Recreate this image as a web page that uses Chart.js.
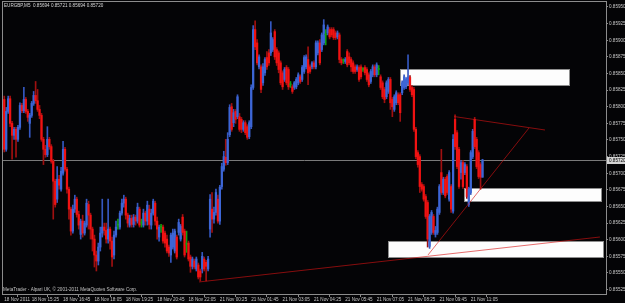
<!DOCTYPE html>
<html>
<head>
<meta charset="utf-8">
<script src="https://cdn.jsdelivr.net/npm/chart.js@4.4.0/dist/chart.umd.min.js"></script>
<style>
  html, body { margin: 0; padding: 0; background: #040406; }
  canvas { display: block; }
</style>
</head>
<body>
<canvas id="c" width="625" height="303"></canvas>
<script>
// EURGBP M5 bars, quotes in 1e-5 units (85811 = 0.85811)
var openP = [
  85811,85736,85793,85812,85775,85757,85766,85751,85769,85802,
  85794,85811,85793,85775,85787,85805,85817,85809,85796,85787,
  85751,85736,85728,85751,85740,85718,85688,85661,85691,85676,
  85700,85736,85706,85676,85646,85613,85646,85661,85638,85608,
  85628,85610,85622,85653,85637,85616,85601,85577,85568,85589,
  85610,85619,85614,85601,85616,85598,85577,85607,85622,85619,
  85640,85655,85661,85637,85622,85632,85623,85634,85628,85646,
  85625,85622,85640,85628,85646,85622,85640,85655,85628,85604,
  85619,85619,85610,85601,85589,85577,85589,85583,85604,85611,
  85601,85634,85613,85593,85595,85574,85560,85568,85556,85562,
  85553,85556,85571,85566,85556,85616,85646,85631,85641,85661,
  85628,85680,85706,85724,85716,85758,85800,85776,85793,85785,
  85785,85781,85766,85776,85770,85755,85770,85829,85916,85896,
  85860,85860,85836,85851,85874,85881,85881,85886,85913,85886,
  85881,85866,85851,85841,85859,85856,85833,85830,85829,85830,
  85836,85845,85841,85853,85860,85871,85860,85860,85866,85860,
  85881,85896,85886,85896,85908,85911,85916,85916,85916,85911,
  85905,85908,85871,85869,85868,85883,85875,85871,85866,85860,
  85856,85859,85860,85856,85859,85856,85848,85838,85848,85860,
  85848,85856,85845,85836,85826,85815,85823,85841,85811,85796,
  85806,85818,85818,85821,85829,85830,85836,85844,85829,85826,
  85766,85731,85725,85683,85680,85665,85656,85590,85611,85635,
  85608,85611,85641,85701,85671,85691,85695,85661,85680,85643,
  85781,85761,85736,85701,85716,85701,85710,85653,85671,85725,
  85781,85751,85731,85713,85694
];
var highP = [
  85816,85799,85816,85816,85778,85769,85769,85772,85806,85805,
  85829,85814,85796,85790,85808,85823,85838,85826,85802,85790,
  85754,85742,85770,85754,85743,85721,85691,85710,85697,85709,
  85748,85739,85709,85679,85649,85652,85667,85664,85643,85631,
  85637,85628,85661,85658,85640,85619,85607,85583,85595,85619,
  85661,85625,85625,85661,85619,85604,85613,85628,85631,85643,
  85661,85667,85664,85640,85637,85637,85638,85637,85655,85649,
  85631,85646,85643,85658,85652,85646,85661,85658,85634,85622,
  85623,85622,85613,85607,85592,85610,85616,85616,85607,85631,
  85623,85638,85616,85613,85598,85577,85574,85571,85574,85565,
  85556,85581,85574,85569,85575,85668,85671,85649,85676,85667,
  85682,85715,85733,85751,85761,85803,85805,85796,85796,85818,
  85790,85784,85779,85779,85773,85779,85833,85922,85929,85901,
  85878,85863,85865,85874,85883,85886,85928,85904,85916,85889,
  85884,85869,85854,85859,85862,85859,85838,85833,85838,85844,
  85851,85848,85862,85877,85878,85890,85863,85868,85869,85899,
  85899,85901,85911,85931,85916,85923,85919,85919,85919,85914,
  85914,85911,85874,85872,85874,85886,85881,85874,85869,85863,
  85863,85862,85863,85859,85862,85859,85851,85856,85863,85863,
  85866,85862,85848,85839,85829,85839,85844,85844,85814,85818,
  85824,85821,85821,85839,85848,85844,85878,85847,85832,85829,
  85769,85734,85728,85686,85683,85668,85659,85638,85644,85638,
  85620,85649,85683,85736,85694,85694,85698,85704,85683,85758,
  85788,85764,85739,85719,85719,85716,85713,85679,85734,85766,
  85784,85754,85734,85716,85721
];
var lowP = [
  85732,85733,85790,85770,85721,85751,85724,85748,85766,85791,
  85791,85790,85778,85754,85784,85802,85805,85793,85782,85748,
  85713,85724,85725,85736,85715,85631,85649,85656,85676,85673,
  85697,85703,85670,85631,85607,85610,85641,85634,85616,85601,
  85604,85607,85619,85616,85601,85583,85559,85553,85562,85583,
  85604,85607,85595,85595,85586,85560,85571,85604,85616,85616,
  85637,85649,85631,85619,85619,85619,85619,85622,85625,85619,
  85619,85619,85622,85622,85616,85616,85637,85622,85601,85598,
  85611,85595,85589,85580,85575,85566,85586,85580,85571,85607,
  85598,85607,85574,85581,85568,85551,85556,85556,85553,85541,
  85538,85550,85553,85538,85553,85604,85611,85625,85637,85625,
  85623,85676,85703,85712,85713,85755,85763,85770,85775,85782,
  85763,85761,85763,85758,85751,85752,85767,85826,85886,85863,
  85857,85821,85832,85847,85856,85862,85877,85883,85871,85862,
  85851,85833,85826,85838,85833,85826,85829,85820,85826,85827,
  85833,85835,85838,85850,85857,85833,85850,85857,85857,85857,
  85878,85863,85883,85893,85893,85908,85902,85905,85901,85901,
  85902,85866,85863,85865,85865,85860,85863,85853,85850,85850,
  85853,85838,85842,85853,85848,85838,85830,85835,85845,85845,
  85845,85848,85826,85812,85806,85812,85820,85796,85785,85793,
  85803,85803,85778,85818,85826,85827,85833,85823,85815,85763,
  85722,85709,85671,85673,85658,85632,85589,85587,85608,85608,
  85604,85608,85638,85668,85668,85663,85668,85658,85641,85640,
  85736,85707,85677,85691,85677,85698,85662,85650,85668,85722,
  85737,85707,85692,85676,85694
];
var closeP = [
  85736,85793,85812,85775,85757,85766,85751,85769,85802,85794,
  85811,85793,85784,85787,85805,85817,85809,85796,85787,85751,
  85736,85728,85751,85740,85718,85688,85653,85691,85682,85703,
  85736,85706,85676,85646,85613,85646,85661,85638,85622,85628,
  85610,85625,85655,85637,85616,85601,85577,85568,85589,85610,
  85619,85614,85601,85616,85598,85574,85607,85619,85622,85640,
  85655,85661,85637,85625,85632,85623,85634,85628,85649,85622,
  85625,85640,85628,85652,85623,85640,85658,85628,85616,85619,
  85619,85598,85595,85583,85580,85607,85610,85613,85574,85626,
  85620,85611,85577,85593,85571,85560,85571,85559,85571,85544,
  85544,85575,85556,85560,85571,85661,85631,85641,85671,85628,
  85679,85710,85725,85716,85751,85799,85766,85791,85781,85815,
  85766,85766,85776,85761,85754,85776,85829,85916,85890,85866,
  85875,85826,85860,85871,85860,85866,85911,85901,85875,85866,
  85856,85836,85830,85856,85836,85830,85833,85823,85836,85841,
  85848,85838,85859,85874,85875,85851,85853,85866,85860,85896,
  85896,85866,85908,85923,85908,85920,85905,85908,85904,85904,
  85911,85871,85866,85869,85871,85863,85866,85860,85853,85853,
  85860,85841,85845,85856,85851,85841,85833,85853,85860,85848,
  85863,85856,85829,85815,85811,85836,85841,85806,85800,85815,
  85821,85806,85791,85836,85845,85841,85845,85826,85818,85766,
  85725,85713,85680,85676,85661,85635,85601,85635,85641,85611,
  85614,85646,85680,85671,85691,85666,85671,85701,85646,85751,
  85740,85710,85680,85716,85680,85713,85665,85676,85731,85763,
  85740,85710,85695,85694,85720
];

// time axis: bar index of each label and its text
var xTickIdx = [0, 14, 30, 46, 62, 78, 94, 110, 126, 142, 158, 174, 190, 206, 222, 238];
var xTickText = ["18 Nov 2011", "18 Nov 15:25", "18 Nov 16:45", "18 Nov 18:05", "18 Nov 19:25",
  "18 Nov 20:45", "18 Nov 22:05", "21 Nov 00:25", "21 Nov 01:45", "21 Nov 03:05", "21 Nov 04:25",
  "21 Nov 05:45", "21 Nov 07:05", "21 Nov 08:25", "21 Nov 09:45", "21 Nov 11:05"];
var priceTicks = [0.85525, 0.8555, 0.85575, 0.856, 0.85625, 0.8565, 0.85675, 0.857, 0.85725,
  0.8575, 0.85775, 0.858, 0.85825, 0.8585, 0.85875, 0.859, 0.85925, 0.8595];

// drawn objects: zones [fromBar, toBar, topPrice, bottomPrice], lines [bar1, price1, bar2, price2]
var zones = [
  [201.9, 288.6, 0.858568, 0.858312],
  [234.6, 305.0, 0.856778, 0.856567],
  [195.8, 306.0, 0.855981, 0.855725]
];
var trendLines = [
  [99.4, 0.855365, 303.9, 0.856041],
  [216.2, 0.855771, 267.7, 0.857680],
  [229.5, 0.857853, 275.9, 0.857650]
];
var lastPrice = 0.85720;

var UP = '#3d66d6', DOWN = '#f01212', DOJI = '#10a010';
var UP_WICK = '#3558c0', DOWN_WICK = '#a01010';
var FONT = 'Liberation Sans';

var bodies = [], wicks = [], bodyCol = [], wickCol = [];
for (var i = 0; i < openP.length; i++) {
  var o = openP[i] / 1e5, c = closeP[i] / 1e5;
  bodies.push({x: i, y: [o, c]});
  wicks.push({x: i, y: [lowP[i] / 1e5, highP[i] / 1e5]});
  if (openP[i] === closeP[i]) { bodyCol.push(DOJI); wickCol.push(DOJI); }
  else if (c > o) { bodyCol.push(UP); wickCol.push(UP_WICK); }
  else { bodyCol.push(DOWN); wickCol.push(DOWN_WICK); }
}

var datasets = trendLines.map(function(t) {
  return {
    type: 'line',
    data: [{x: t[0], y: t[1]}, {x: t[2], y: t[3]}],
    borderColor: 'rgba(215,20,20,0.62)',
    borderWidth: 1,
    pointRadius: 0,
    tension: 0,
    fill: false
  };
});
datasets.push({
  data: bodies,
  backgroundColor: bodyCol,
  barThickness: 1.6,
  minBarLength: 1,
  grouped: false
});
datasets.push({
  data: wicks,
  backgroundColor: wickCol,
  barThickness: 1,
  grouped: false
});

var mtPlugin = {
  id: 'mt',
  beforeDatasetsDraw: function(chart) {
    var ctx = chart.ctx, a = chart.chartArea, xs = chart.scales.x, ys = chart.scales.y;
    ctx.save();
    ctx.beginPath();
    ctx.rect(a.left, a.top, a.right - a.left, a.bottom - a.top);
    ctx.clip();
    var yp = Math.round(ys.getPixelForValue(lastPrice)) + 0.5;
    ctx.strokeStyle = '#7a7a7a';
    ctx.lineWidth = 1;
    ctx.beginPath();
    ctx.moveTo(a.left, yp);
    ctx.lineTo(a.right, yp);
    ctx.stroke();
    zones.forEach(function(z) {
      var x0 = Math.round(xs.getPixelForValue(z[0])), x1 = Math.round(xs.getPixelForValue(z[1]));
      var y0 = Math.round(ys.getPixelForValue(z[2])), y1 = Math.round(ys.getPixelForValue(z[3]));
      ctx.fillStyle = '#fdfdfd';
      ctx.fillRect(x0, y0, x1 - x0, y1 - y0);
      ctx.strokeStyle = '#8e8e8e';
      ctx.strokeRect(x0 + 0.5, y0 + 0.5, x1 - x0 - 1, y1 - y0 - 1);
    });
    ctx.restore();
  },
  afterDraw: function(chart) {
    var ctx = chart.ctx, a = chart.chartArea, ys = chart.scales.y;
    var n = openP.length - 1;
    ctx.save();
    ctx.strokeStyle = '#8c8c8c';
    ctx.lineWidth = 1;
    ctx.strokeRect(a.left - 0.5, a.top - 0.5, a.right - a.left + 1, a.bottom - a.top + 1);

    ctx.font = '4.6px "' + FONT + '"';
    ctx.textBaseline = 'middle';
    ctx.fillStyle = '#d8d8d8';
    var title = 'EURGBP,M5  ' + [openP[n], highP[n], lowP[n], closeP[n]].map(function(v) {
      return (v / 1e5).toFixed(5);
    }).join(' ');
    ctx.fillText(title, 4, 5.5);
    ctx.fillStyle = '#c4c4c4';
    ctx.fillText('MetaTrader - Alpari UK, \u00a9 2001-2011 MetaQuotes Software Corp.', 3, 289.5);

    var yp = Math.round(ys.getPixelForValue(lastPrice));
    ctx.fillStyle = '#d4d4d4';
    ctx.fillRect(a.right + 1, yp - 3, 625 - a.right - 1, 7);
    ctx.fillStyle = '#000000';
    ctx.fillText(lastPrice.toFixed(5), a.right + 3, yp + 0.5);
    ctx.restore();
  }
};

new Chart(document.getElementById('c'), {
  type: 'bar',
  data: { datasets: datasets },
  plugins: [mtPlugin],
  options: {
    responsive: false,
    animation: false,
    events: [],
    layout: { padding: { left: 3, top: 2, right: 0, bottom: 0 } },
    plugins: { legend: { display: false }, tooltip: { enabled: false } },
    scales: {
      x: {
        type: 'linear',
        offset: false,
        min: -0.64,
        max: 307.0,
        border: { display: false },
        grid: { drawOnChartArea: false, drawTicks: true, tickLength: 3, color: '#8c8c8c' },
        afterBuildTicks: function(s) {
          s.ticks = xTickIdx.map(function(v) { return {value: v}; });
        },
        afterFit: function(s) { s.height = 9; s.paddingLeft = 0; s.paddingRight = 0; },
        ticks: {
          autoSkip: false,
          maxRotation: 0,
          minRotation: 0,
          align: 'start',
          padding: 0,
          color: '#c8c8c8',
          font: { family: FONT, size: 4.6 },
          callback: function(v, idx) { return xTickText[idx]; }
        }
      },
      y: {
        position: 'right',
        min: 0.855184,
        max: 0.859575,
        border: { display: false },
        grid: { drawOnChartArea: false, drawTicks: true, tickLength: 2, color: '#8c8c8c' },
        afterBuildTicks: function(s) {
          s.ticks = priceTicks.map(function(v) { return {value: v}; });
        },
        afterFit: function(s) { s.width = 19; s.paddingTop = 0; s.paddingBottom = 0; },
        ticks: {
          padding: 1,
          color: '#c8c8c8',
          font: { family: FONT, size: 4.6 },
          callback: function(v) { return v.toFixed(5); }
        }
      }
    }
  }
});
</script>
</body>
</html>
